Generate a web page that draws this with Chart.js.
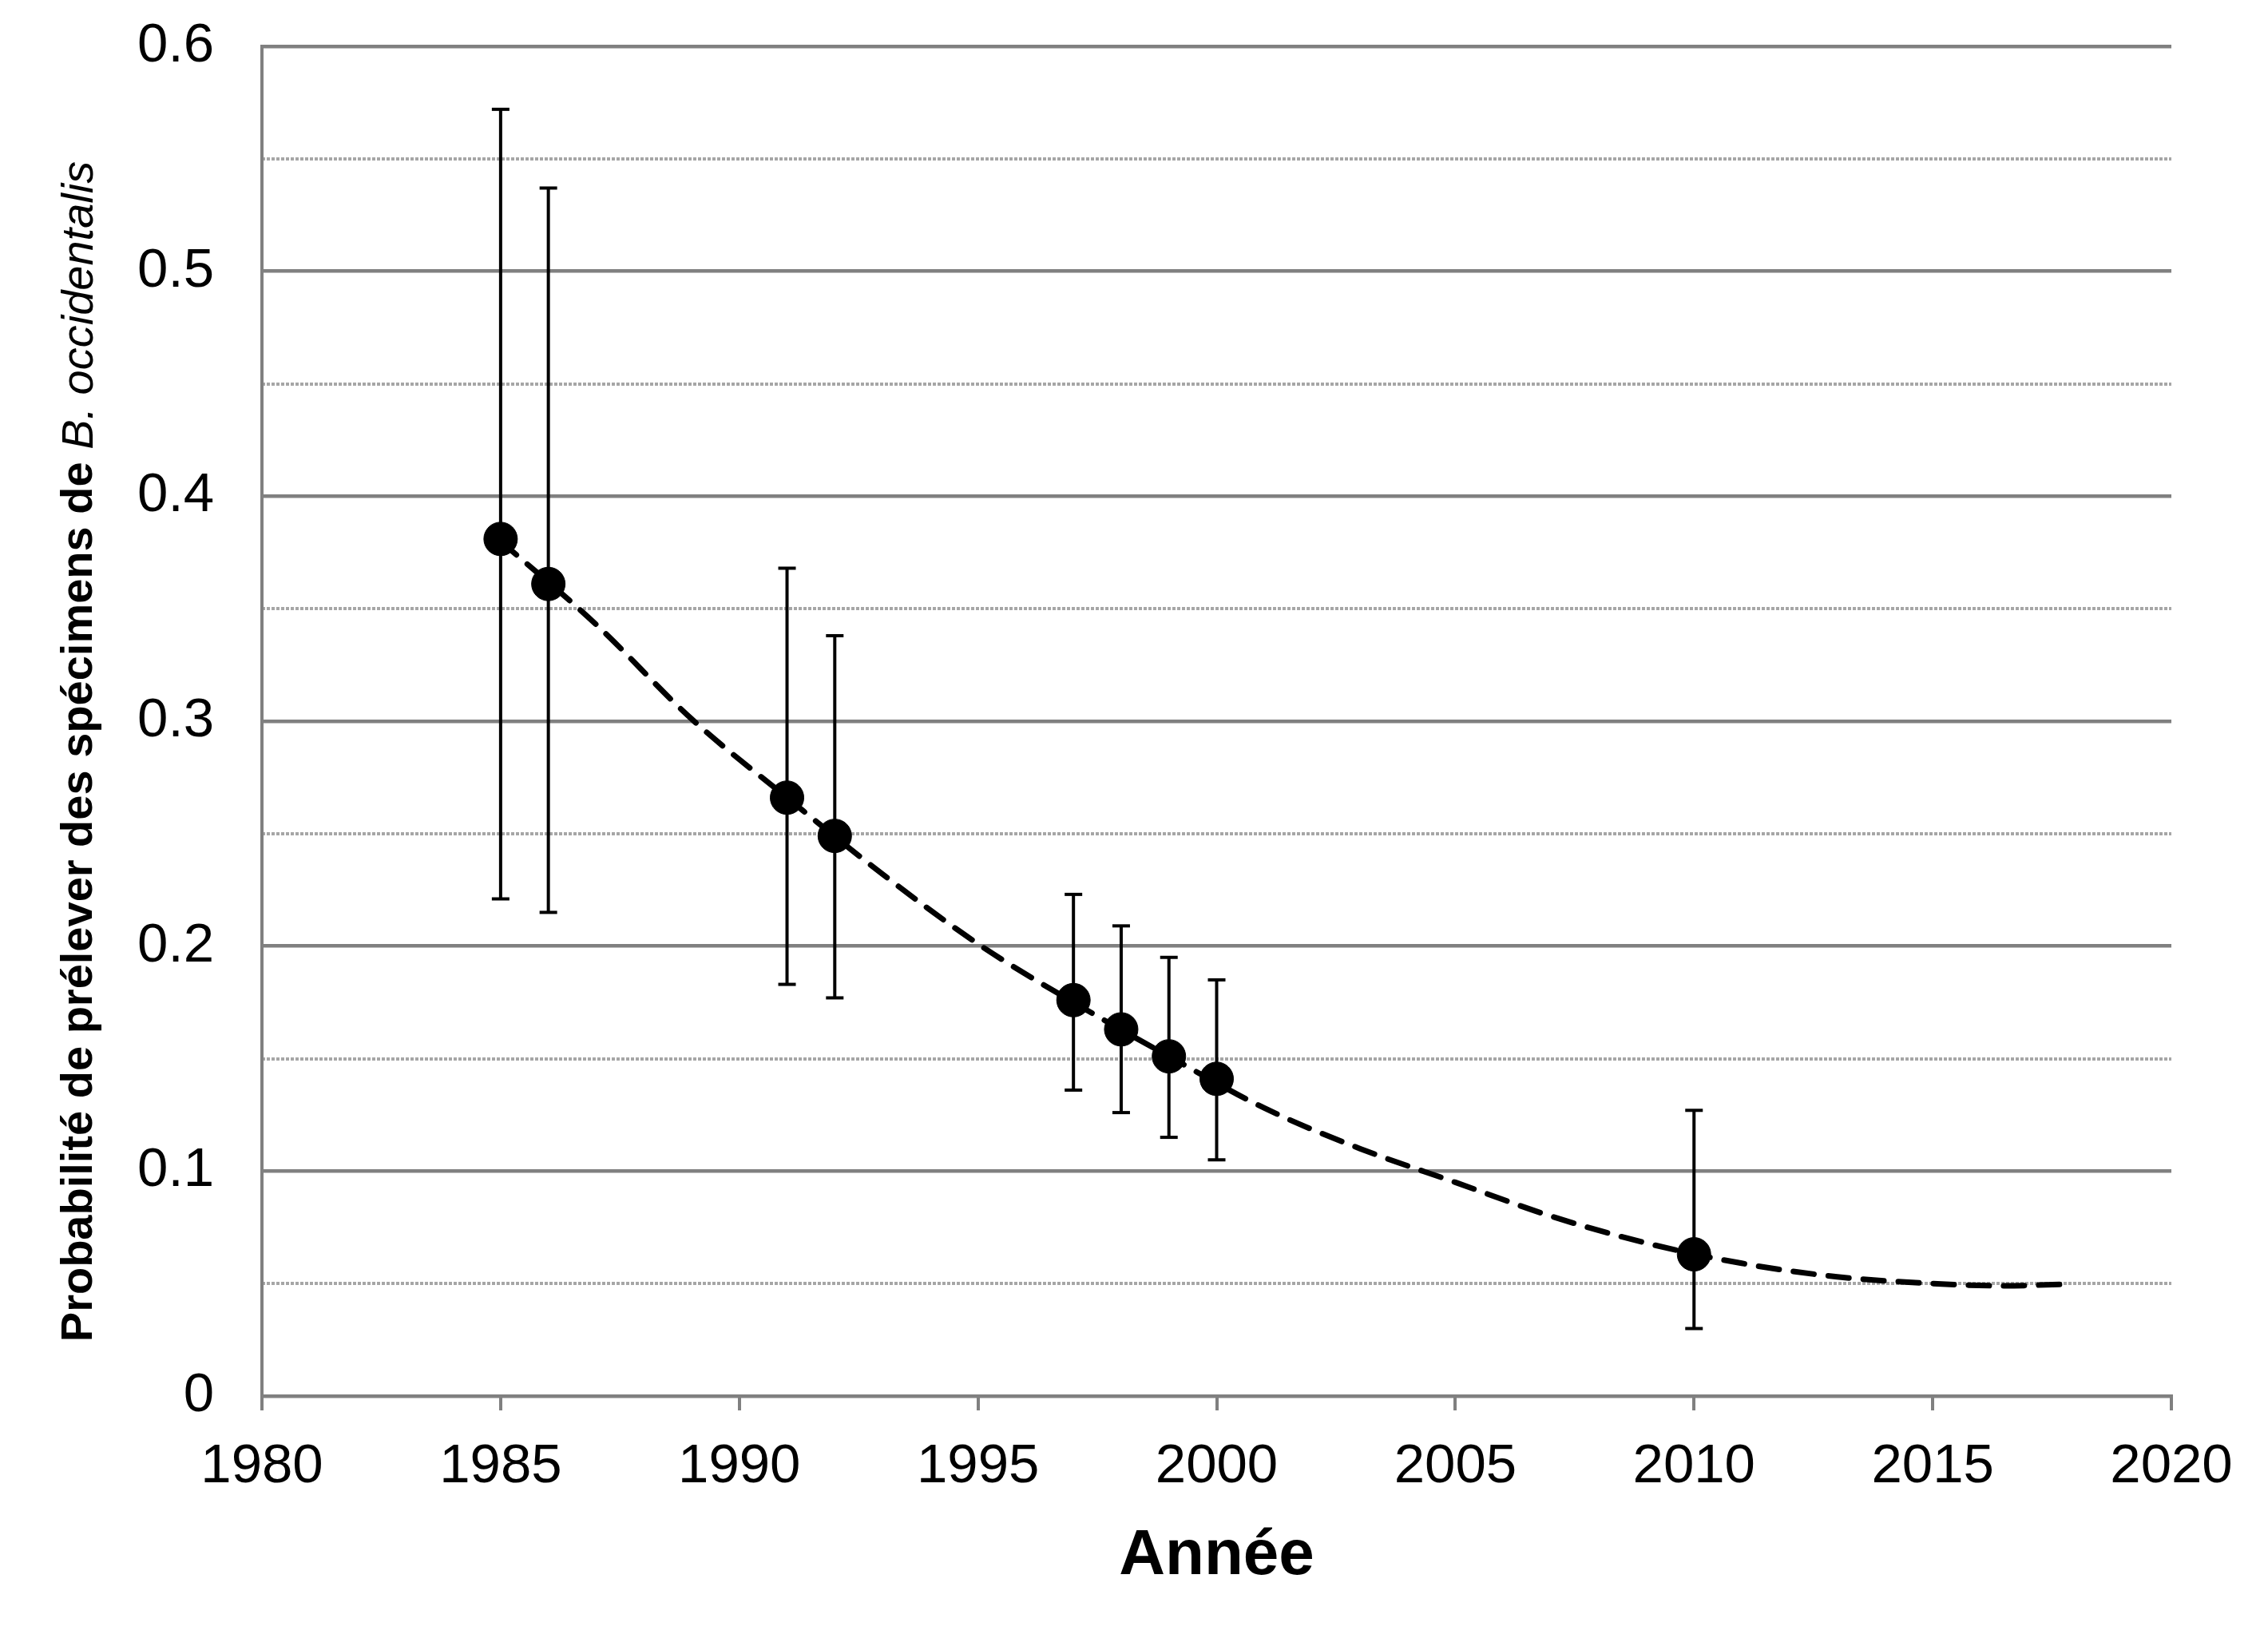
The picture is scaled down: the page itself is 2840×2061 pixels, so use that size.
<!DOCTYPE html>
<html>
<head>
<meta charset="utf-8">
<script src="https://cdn.jsdelivr.net/npm/chart.js@4.4.1/dist/chart.umd.min.js"></script>
<style>
  html, body { margin: 0; padding: 0; background: #fff; }
  #wrap { width: 2840px; height: 2061px; }
</style>
</head>
<body>
<div id="wrap"><canvas id="chart"></canvas></div>
<script>
// valeurs
const annees = [1985, 1986, 1991, 1992, 1997, 1998, 1999, 2000, 2010];
const probabilites = [0.381, 0.361, 0.266, 0.249, 0.176, 0.163, 0.151, 0.141, 0.063];
const erreurBas = [0.221, 0.215, 0.183, 0.177, 0.136, 0.126, 0.115, 0.105, 0.030];
const erreurHaut = [0.572, 0.537, 0.368, 0.338, 0.223, 0.209, 0.195, 0.185, 0.127];

// courbe de tendance (pointillés)
const tendanceAnnees = [1985, 1987, 1989, 1991, 1993, 1995, 1997, 1999, 2001, 2003, 2005, 2007, 2009, 2011, 2013, 2015, 2016.5, 2017.8];
const tendanceValeurs = [0.380, 0.343, 0.301, 0.266, 0.232, 0.201, 0.175, 0.151, 0.128, 0.110, 0.095, 0.080, 0.068, 0.059, 0.053, 0.050, 0.049, 0.0497];

const yTicks = [0, 0.1, 0.2, 0.3, 0.4, 0.5, 0.6];
const xTicks = [1980, 1985, 1990, 1995, 2000, 2005, 2010, 2015, 2020];

const FONT = "'Liberation Sans', Arial, sans-serif";
const GRIS = '#808080';

// barres d'erreur : un petit jeu de données par année
const barres = annees.map((a, i) => ({
    type: 'line',
    data: [{ x: a, y: erreurBas[i] }, { x: a, y: erreurHaut[i] }],
    borderColor: '#000',
    borderWidth: 4,
    pointStyle: 'line',
    pointRadius: 11,
    pointBorderWidth: 4,
    pointBorderColor: '#000',
    pointHoverRadius: 11,
    order: 3
}));

// titre de l'axe Y avec une partie en italique
const titreY = {
    id: 'titreY',
    afterDraw(chart) {
        const { ctx, chartArea } = chart;
        const partie1 = 'Probabilité de prélever des spécimens de ';
        const partie2 = 'B. occidentalis';
        const f1 = `bold 56px ${FONT}`;
        const f2 = `italic 56px ${FONT}`;
        ctx.save();
        ctx.font = f1;
        const w1 = ctx.measureText(partie1).width;
        ctx.font = f2;
        const w2 = ctx.measureText(partie2).width;
        const cy = (chartArea.top + chartArea.bottom) / 2 + 38;
        ctx.translate(100, cy);
        ctx.rotate(-Math.PI / 2);
        ctx.fillStyle = '#000';
        ctx.textBaseline = 'middle';
        ctx.textAlign = 'left';
        const debut = -(w1 + w2) / 2;
        ctx.font = f1;
        ctx.fillText(partie1, debut, 0);
        ctx.font = f2;
        ctx.fillText(partie2, debut + w1, 0);
        ctx.restore();
    }
};

new Chart(document.getElementById('chart'), {
    type: 'scatter',
    data: {
        datasets: [
            {
                type: 'scatter',
                data: annees.map((a, i) => ({ x: a, y: probabilites[i] })),
                backgroundColor: '#000',
                borderColor: '#000',
                pointRadius: 21,
                pointHoverRadius: 21,
                order: 1
            },
            {
                type: 'line',
                data: tendanceAnnees.map((a, i) => ({ x: a, y: tendanceValeurs[i] })),
                borderColor: '#000',
                borderWidth: 7,
                borderDash: [26, 18],
                borderCapStyle: 'round',
                cubicInterpolationMode: 'monotone',
                pointRadius: 0,
                fill: false,
                order: 2
            },
            ...barres
        ]
    },
    options: {
        responsive: true,
        maintainAspectRatio: false,
        animation: false,
        devicePixelRatio: 1,
        layout: { padding: { top: 58, right: 121, bottom: 0, left: 0 } },
        plugins: { legend: { display: false }, tooltip: { enabled: false } },
        scales: {
            x: {
                type: 'linear',
                min: 1980,
                max: 2020,
                afterBuildTicks: (s) => { s.ticks = xTicks.map(v => ({ value: v })); },
                ticks: { color: '#000', font: { family: FONT, size: 69 }, padding: 30, maxRotation: 0, callback: (v) => String(v) },
                grid: { drawOnChartArea: false, drawTicks: true, tickLength: 18, color: GRIS, lineWidth: 4 },
                border: { display: true, color: GRIS, width: 4 },
                title: { display: true, text: 'Année', color: '#000', font: { family: FONT, size: 80, weight: 'bold' }, padding: { top: 0, bottom: 64 } },
                afterFit: (s) => { s.height = 313; }
            },
            y: {
                min: 0,
                max: 0.6,
                afterBuildTicks: (s) => { s.ticks = yTicks.map(v => ({ value: v })); },
                ticks: {
                    color: '#000',
                    font: { family: FONT, size: 69 },
                    padding: 8,
                    callback: (v) => v === 0 ? '0' : v.toFixed(1)
                },
                grid: { color: GRIS, lineWidth: 4.5, drawTicks: true, tickLength: 52, tickColor: 'rgba(0,0,0,0)' },
                border: { display: true, color: GRIS, width: 4 },
                afterFit: (s) => { s.width = 328; }
            },
            y2: {
                position: 'right',
                min: 0,
                max: 0.6,
                afterBuildTicks: (s) => { s.ticks = yTicks.slice(0, -1).map(v => ({ value: v + 0.05 })); },
                ticks: { display: false },
                grid: { color: '#a6a6a6', lineWidth: 4, drawTicks: false },
                border: { display: false, dash: [4, 2] },
                afterFit: (s) => { s.width = 0; }
            }
        }
    },
    plugins: [titreY]
});
</script>
</body>
</html>
